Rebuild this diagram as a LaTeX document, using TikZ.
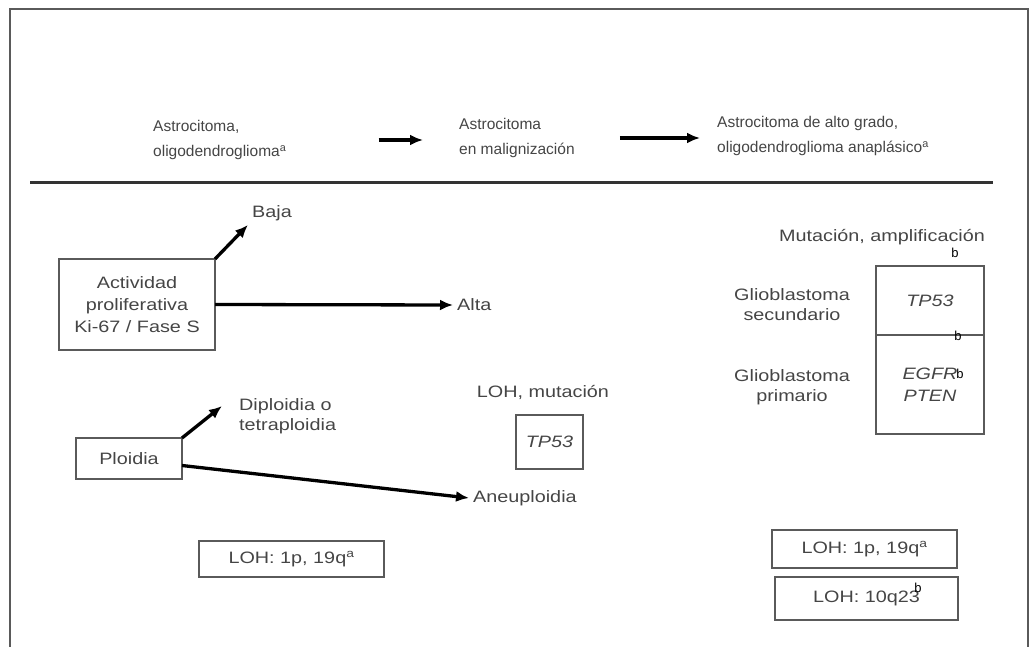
\documentclass[tikz,border=0pt]{standalone}
\usepackage{fontspec}
\setmainfont{Liberation Sans}
\newfontfamily\widesans[FakeStretch=1.2]{Liberation Sans}
\usepackage{tikz}
\usetikzlibrary{arrows.meta,positioning}
\definecolor{txtgray}{HTML}{454545}
\definecolor{linegray}{HTML}{5A5A5A}

\begin{document}
\begin{tikzpicture}[x=1pt,y=-1pt,
    hdr/.style={text=txtgray,font=\fontsize{15.5}{25}\selectfont,align=left,inner sep=0pt,anchor=west},
    lbl/.style={text=txtgray,font=\widesans\fontsize{16.5}{20}\selectfont,align=center,inner sep=4pt},
    box/.style={draw=linegray,line width=1.4pt,outer sep=0pt,text=txtgray,
      font=\widesans\fontsize{16.5}{22}\selectfont,align=center,inner sep=0pt},
    bnote/.style={font=\fontsize{13}{13}\selectfont,inner sep=0pt},
    arr/.style={->,line width=3.3pt},
    >={Latex[length=13pt,width=11pt]}
  ]
  \useasboundingbox (0,0) rectangle (1030,647);
  \draw[linegray,line width=2pt] (10,647) -- (10,9) -- (1028,9) -- (1028,647);

  \node[hdr] (hdA) at (153,140) {Astrocitoma,\\oligodendroglioma\textsuperscript{a}};
  \node[hdr] (hdB) at (459,138) {Astrocitoma\\en malignización};
  \node[hdr] (hdC) at (717,136) {Astrocitoma de alto grado,\\oligodendroglioma anaplásico\textsuperscript{a}};
  \draw[arr,shorten <=92pt,shorten >=36pt] (hdA.east) -- (hdA.east -| hdB.west);
  \draw[arr,shorten <=45pt,shorten >=17pt] (hdB.east) -- (hdB.east -| hdC.west);
  \draw[line width=3pt,black!80] (30,183) -- (993,183);

  \node[box,minimum width=156pt,minimum height=91pt] (act) at (137,304.5)
    {Actividad\\proliferativa\\Ki-67 / Fase S};
  \node[lbl] (baja) at (272,213) {Baja};
  \node[lbl,anchor=west] (alta) at (453,305) {Alta};
  \draw[arr] (act.north east) -- (baja.south west);
  \draw[arr] (act.east) -- (alta.west);

  \node[box,minimum width=106pt,minimum height=41pt] (ploidy) at (129,458.5) {Ploidia};
  \node[lbl,anchor=west,align=left] (dip) at (235,416) {Diploidia o\\tetraploidia};
  \node[lbl,anchor=west] (aneu) at (469,498) {Aneuploidia};
  \draw[arr] (ploidy.north east) -- ([xshift=-13pt,yshift=10pt]dip.west);
  \draw[arr] ([yshift=-7pt]ploidy.east) -- (aneu.west);

  \node[lbl] (lohmut) at (543,392) {LOH, mutación};
  \node[box,minimum width=67pt,minimum height=54pt] (tpmid) at (549.5,442) {\textit{TP53}};

  \node[lbl] (mutamp) at (882,237) {Mutación, amplificación};
  \node[box,minimum width=108pt,minimum height=69pt] (tpbox) at (930,300.5) {\textit{TP53}};
  \node[box,minimum width=108pt,minimum height=99pt,below=0pt of tpbox] (egbox)
    {\textit{EGFR}\\\textit{PTEN}};
  \node[lbl] (gsec) at (792,305) {Glioblastoma\\secundario};
  \node[lbl] (gpri) at (792,387) {Glioblastoma\\primario};
  \node[bnote] (b1) at (955,253) {b};
  \node[bnote] (b2) at (958,336) {b};
  \node[bnote] (b3) at (960,374) {b};

  \node[box,minimum width=185pt,minimum height=36pt] (lohL) at (291.5,559) {LOH: 1p, 19q\textsuperscript{a}};
  \node[box,minimum width=185pt,minimum height=38pt] (lohR) at (864.5,549) {LOH: 1p, 19q\textsuperscript{a}};
  \node[box,minimum width=183pt,minimum height=43pt] (lohQ) at (866.5,598.5) {LOH: 10q23};
  \node[bnote] (b4) at (918,588) {b};
\end{tikzpicture}
\end{document}
